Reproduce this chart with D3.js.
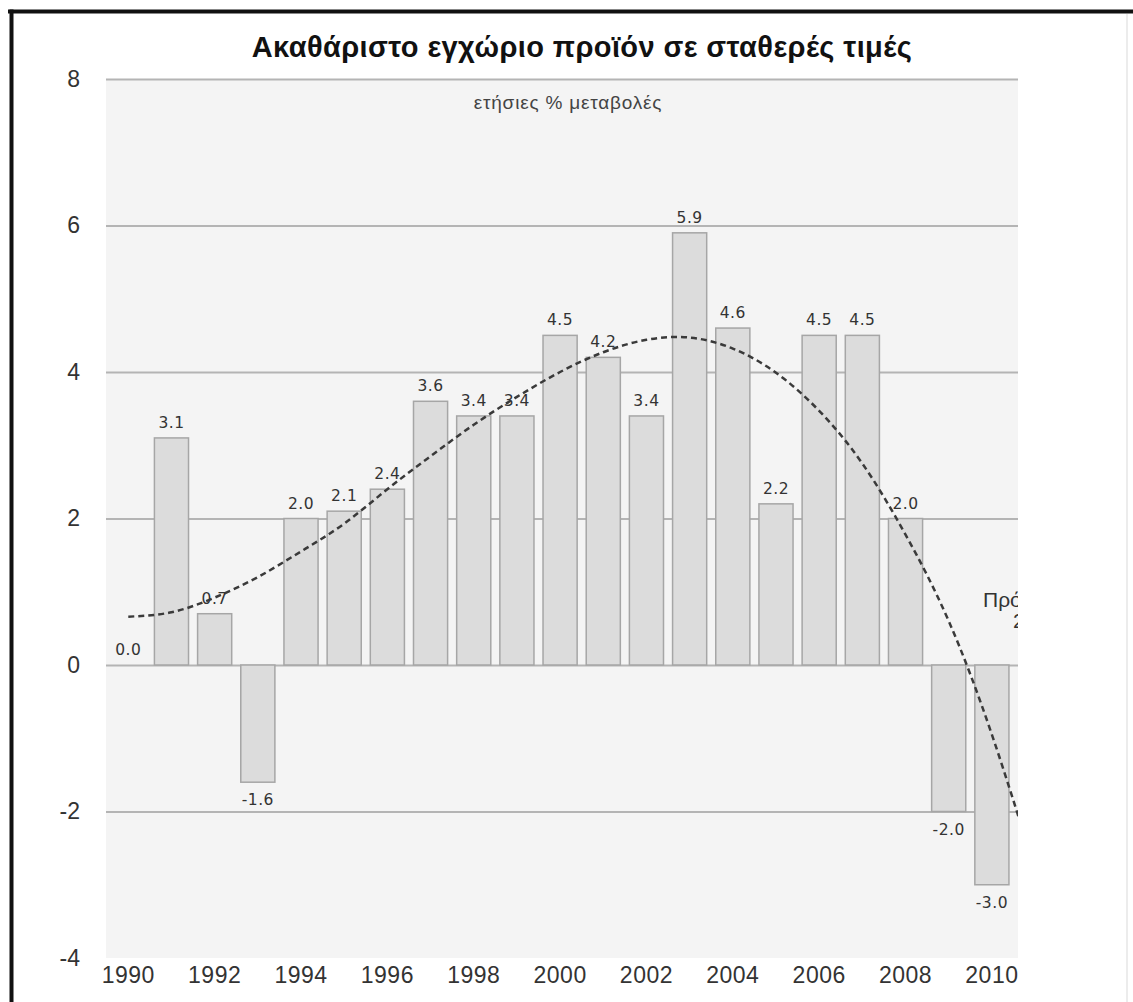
<!DOCTYPE html>
<html lang="el">
<head>
<meta charset="UTF-8">
<title>Ακαθάριστο εγχώριο προϊόν</title>
<script src="https://d3js.org/d3.v7.min.js"></script>
<style>
  body { margin: 0; background: #fff; }
  svg { display: block; }
</style>
</head>
<body>
<div id="chart"></div>
<script>
// data
const years = d3.range(1990, 2012);            // 2011 only partly visible, cut at right edge
const barYears = d3.range(1990, 2011);
const growth = [0.0, 3.1, 0.7, -1.6, 2.0, 2.1, 2.4, 3.6, 3.4, 3.4, 4.5, 4.2, 3.4, 5.9, 4.6, 2.2, 4.5, 4.5, 2.0, -2.0, -3.0];
const trend = [0.66, 0.72, 0.92, 1.2, 1.55, 1.93, 2.4, 2.85, 3.28, 3.66, 4.0, 4.27, 4.44, 4.47, 4.32, 3.99, 3.47, 2.75, 1.78, 0.6, -0.95, -2.8];
const yTicks = [8, 6, 4, 2, 0, -2, -4];
const gridTicks = [8, 6, 4, 2, 0, -2];
const xTicks = [1990, 1992, 1994, 1996, 1998, 2000, 2002, 2004, 2006, 2008, 2010];
const title = "Ακαθάριστο εγχώριο προϊόν σε σταθερές τιμές";
const subtitle = "ετήσιες % μεταβολές";
const noteLines = ["Πρόβλεψη", "2011"];

const W = 1133, H = 1002;
const plot = { left: 106, right: 1018, top: 79, bottom: 958 };
const sans = "'Liberation Sans', Arial, sans-serif";

const svg = d3.select("#chart").append("svg")
    .attr("width", W)
    .attr("height", H);

// frame of the screenshot
svg.append("line").attr("x1", 8).attr("x2", W).attr("y1", 11.5).attr("y2", 11.5)
    .attr("stroke", "#111").attr("stroke-width", 4);
svg.append("line").attr("x1", 11.5).attr("x2", 11.5).attr("y1", 9.5).attr("y2", H)
    .attr("stroke", "#111").attr("stroke-width", 4);
svg.append("line").attr("x1", 1127).attr("x2", 1127).attr("y1", 14).attr("y2", H)
    .attr("stroke", "#e6e6e6").attr("stroke-width", 1.5);

svg.append("defs").append("clipPath")
    .attr("id", "clip")
    .append("rect")
    .attr("x", 0).attr("y", 0)
    .attr("width", plot.right).attr("height", H);

// scales
const x = d3.scaleBand()
    .domain(years)
    .range([106.7, 106.7 + 43.18 * years.length])
    .paddingInner(0.21)
    .paddingOuter(0.105);

const y = d3.scaleLinear()
    .domain([-4, 8])
    .range([plot.bottom, plot.top]);

// plot background
svg.append("rect")
    .attr("x", plot.left).attr("y", plot.top)
    .attr("width", plot.right - plot.left)
    .attr("height", plot.bottom - plot.top)
    .attr("fill", "#f4f4f4");

// grid lines
const grid = svg.append("g")
    .attr("transform", `translate(${plot.left},0)`)
    .call(d3.axisRight(y).tickValues(gridTicks).tickSize(plot.right - plot.left).tickFormat(""));
grid.select(".domain").remove();
grid.selectAll(".tick line").attr("stroke", "#b4b4b4").attr("stroke-width", 2);

// y axis labels (plain hyphen for negatives, as in the original)
const yAxis = svg.append("g")
    .attr("transform", "translate(80,0)")
    .call(d3.axisLeft(y).tickValues(yTicks).tickSize(0).tickPadding(0).tickFormat(d => String(d)));
yAxis.select(".domain").remove();
yAxis.selectAll("text")
    .attr("font-family", sans)
    .attr("font-size", 23)
    .attr("fill", "#333");

const inner = svg.append("g").attr("clip-path", "url(#clip)");

// bars
inner.append("g")
    .selectAll("rect")
    .data(barYears)
    .join("rect")
    .attr("x", d => x(d))
    .attr("width", x.bandwidth())
    .attr("y", (d, i) => y(Math.max(0, growth[i])))
    .attr("height", (d, i) => Math.abs(y(growth[i]) - y(0)))
    .attr("fill", "#dcdcdc")
    .attr("stroke", "#a6a6a6")
    .attr("stroke-width", 1.5);

// value labels
inner.append("g")
    .selectAll("text")
    .data(barYears)
    .join("text")
    .attr("x", d => x(d) + x.bandwidth() / 2)
    .attr("y", (d, i) => growth[i] >= 0 ? y(growth[i]) - 10 : y(growth[i]) + 23)
    .attr("text-anchor", "middle")
    .attr("font-family", "'DejaVu Sans', Verdana, sans-serif")
    .attr("font-size", 15.5)
    .attr("letter-spacing", 0.5)
    .attr("fill", "#333")
    .text((d, i) => growth[i].toFixed(1));

// dashed trend curve
const line = d3.line()
    .x((d, i) => x(years[i]) + x.bandwidth() / 2)
    .y(d => y(d))
    .curve(d3.curveNatural);

inner.append("path")
    .datum(trend)
    .attr("d", line)
    .attr("fill", "none")
    .attr("stroke", "#3a3a3a")
    .attr("stroke-width", 2.5)
    .attr("stroke-dasharray", "6,4");

// cut-off note at the right edge
inner.append("text")
    .attr("y", 607)
    .attr("font-family", sans)
    .attr("font-size", 21)
    .attr("fill", "#333")
    .selectAll("tspan")
    .data(noteLines)
    .join("tspan")
    .attr("x", (d, i) => i === 0 ? 983 : 1013)
    .attr("dy", (d, i) => i === 0 ? 0 : 21)
    .text(d => d);

// x axis labels
const xAxis = inner.append("g")
    .attr("transform", `translate(0,${plot.bottom})`)
    .call(d3.axisBottom(x).tickValues(xTicks).tickSize(0).tickPadding(9));
xAxis.select(".domain").remove();
xAxis.selectAll("text")
    .attr("font-family", sans)
    .attr("font-size", 23)
    .attr("letter-spacing", 0.5)
    .attr("fill", "#333");

// titles
svg.append("text")
    .attr("x", 582)
    .attr("y", 57)
    .attr("text-anchor", "middle")
    .attr("font-family", sans)
    .attr("font-weight", "bold")
    .attr("font-size", 29)
    .attr("letter-spacing", 0.4)
    .attr("fill", "#111")
    .text(title);

svg.append("text")
    .attr("x", 568)
    .attr("y", 109)
    .attr("text-anchor", "middle")
    .attr("font-family", sans)
    .attr("font-size", 19)
    .attr("letter-spacing", 0.8)
    .attr("fill", "#444")
    .text(subtitle);
</script>
</body>
</html>
